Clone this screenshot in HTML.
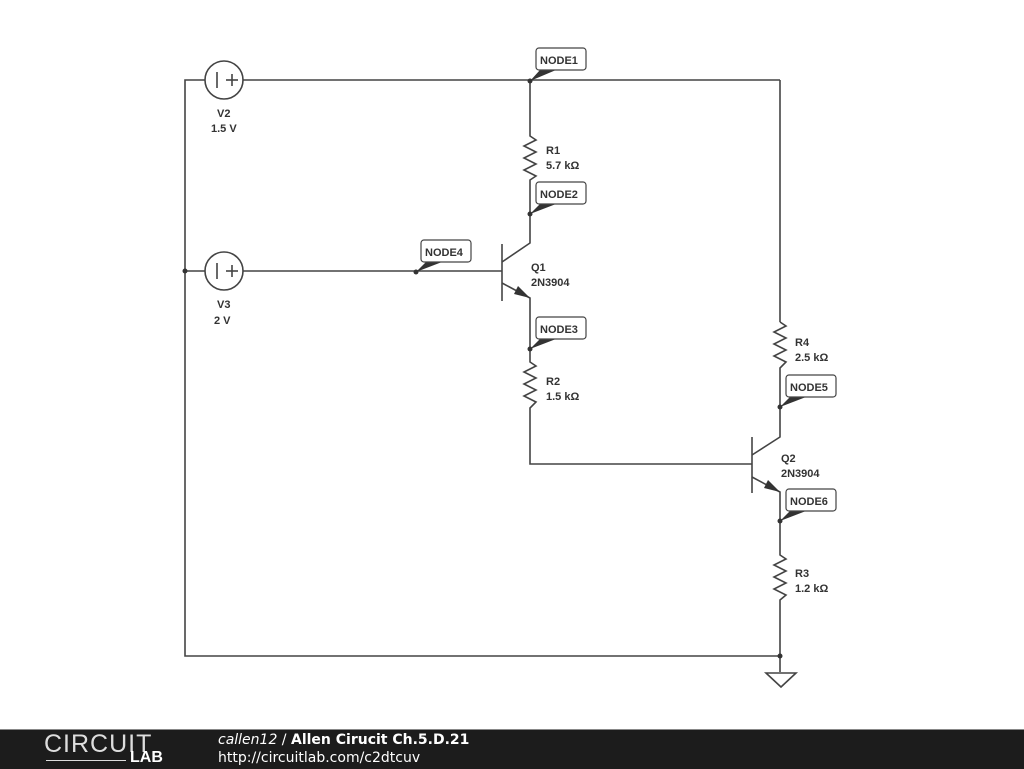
<!DOCTYPE html>
<html><head><style>
body{margin:0;width:1024px;height:768px;overflow:hidden;background:#fff;font-family:"Liberation Sans",sans-serif}
svg{position:absolute;left:0;top:0}
.l{font-size:11px;font-weight:bold;fill:#333}
.footer{position:absolute;left:0;top:729px;width:1024px;height:39px;background:#1c1c1c;border-top:1px solid #888}
</style></head><body>
<svg width="1024" height="730" viewBox="0 0 1024 730">
<g stroke="#444" stroke-width="1.6" fill="none">
<polyline points="205,80 185,80 185,656 780,656"/>
<line x1="243" y1="80" x2="780" y2="80"/>
<line x1="780" y1="80" x2="780" y2="322"/>
<line x1="185" y1="271" x2="205" y2="271"/>
<line x1="243" y1="271" x2="502" y2="271"/>
<circle cx="224" cy="80" r="19"/><circle cx="224" cy="271" r="19"/>
<line x1="217" y1="72" x2="217" y2="88"/><line x1="226" y1="80" x2="238" y2="80"/><line x1="232" y1="74" x2="232" y2="86"/>
<line x1="217" y1="263" x2="217" y2="279"/><line x1="226" y1="271" x2="238" y2="271"/><line x1="232" y1="265" x2="232" y2="277"/>
<polyline points="530,80 530,136 536,140 524,146 536,152 524,158 536,164 524,170 536,176 530,180 530,243 502,262"/>
<line x1="502" y1="244" x2="502" y2="301"/>
<polyline points="502,283 530,298 530,362 536,366 524,372 536,378 524,384 536,390 524,396 536,402 530,408 530,464 752,464"/>
<line x1="752" y1="437" x2="752" y2="493"/>
<polyline points="780,322 786,326 774,332 786,338 774,344 786,350 774,356 786,362 780,368 780,437 752,455"/>
<polyline points="752,477 780,492 780,555 786,559 774,565 786,571 774,577 786,583 774,589 786,595 780,600 780,672"/>
<polygon points="766,673 796,673 781,687"/>
</g>
<polygon points="530,298 518,286 514,294" fill="#333"/>
<polygon points="780,492 768,480 764,488" fill="#333"/>
<g fill="#333">
<circle cx="530" cy="81" r="2.5"/><circle cx="530" cy="214" r="2.5"/><circle cx="416" cy="272" r="2.5"/>
<circle cx="530" cy="349" r="2.5"/><circle cx="780" cy="407" r="2.5"/><circle cx="780" cy="521" r="2.5"/>
<circle cx="780" cy="656" r="2.5"/><circle cx="185" cy="271" r="2.5"/>
<polygon points="530,81 540,70 556,70"/><polygon points="530,214 540,204 556,204"/><polygon points="416,272 426,262 442,262"/>
<polygon points="530,349 540,339 556,339"/><polygon points="780,407 790,397 806,397"/><polygon points="780,521 790,511 806,511"/>
</g>
<g fill="#fff" stroke="#444" stroke-width="1.2">
<rect x="536" y="48" width="50" height="22" rx="3"/><rect x="536" y="182" width="50" height="22" rx="3"/>
<rect x="421" y="240" width="50" height="22" rx="3"/><rect x="536" y="317" width="50" height="22" rx="3"/>
<rect x="786" y="375" width="50" height="22" rx="3"/><rect x="786" y="489" width="50" height="22" rx="3"/>
</g>
<g class="l">
<text x="540" y="64">NODE1</text><text x="540" y="198">NODE2</text><text x="425" y="256">NODE4</text>
<text x="540" y="333">NODE3</text><text x="790" y="391">NODE5</text><text x="790" y="505">NODE6</text>
<text x="217" y="117">V2</text><text x="211" y="132">1.5 V</text>
<text x="217" y="308">V3</text><text x="214" y="324">2 V</text>
<text x="546" y="154">R1</text><text x="546" y="169">5.7 kΩ</text>
<text x="531" y="271">Q1</text><text x="531" y="286">2N3904</text>
<text x="546" y="385">R2</text><text x="546" y="400">1.5 kΩ</text>
<text x="795" y="346">R4</text><text x="795" y="361">2.5 kΩ</text>
<text x="781" y="462">Q2</text><text x="781" y="477">2N3904</text>
<text x="795" y="577">R3</text><text x="795" y="592">1.2 kΩ</text>
</g>
</svg>
<div class="footer">
<div style="position:absolute;left:44px;top:0px;color:#ddd;font-size:25px;letter-spacing:1px">CIRCUIT</div>
<div style="position:absolute;left:46px;top:30px;width:80px;height:1px;background:#ddd"></div>
<div style="position:absolute;left:130px;top:19px;color:#fff;font-size:16px;font-weight:bold">LAB</div>
<div style="position:absolute;left:218px;top:2px;color:#fff;font-size:14px;font-family:'DejaVu Sans',sans-serif"><i>callen12</i> / <b>Allen Cirucit Ch.5.D.21</b></div>
<div style="position:absolute;left:218px;top:20px;color:#fff;font-size:14px;font-family:'DejaVu Sans',sans-serif">http://circuitlab.com/c2dtcuv</div>
</div>
</body></html>
